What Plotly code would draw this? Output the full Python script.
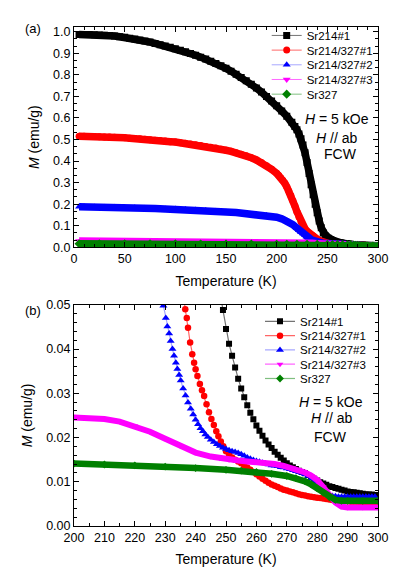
import plotly.graph_objects as go

# ── Data (T in K, M in emu/g) ────────────────────────────────────────────────

T_214 = [5, 10, 15, 20, 25, 30, 35, 40, 45, 50, 55, 60, 65, 70, 75, 80, 85, 90, 95, 100,
         105, 110, 115, 120, 125, 130, 135, 140, 145, 150, 155, 160, 165, 170, 175, 180,
         185, 190, 195, 200, 205, 210, 215, 218, 220, 222, 224, 226, 228, 230, 232, 234,
         236, 238, 240, 242, 244, 246, 248, 249, 250, 251, 252, 253, 254, 255, 256, 257,
         258, 259, 260, 261, 262, 263, 264, 265, 266, 267, 268, 269, 270, 271, 272, 273,
         274, 275, 276, 277, 278, 279, 280, 281, 282, 283, 284, 285, 286, 287, 288, 289,
         290, 291, 292, 293, 294, 295, 296, 297, 298, 299, 300]
M_214 = [0.987, 0.987, 0.987, 0.986, 0.985, 0.984, 0.982, 0.980, 0.977, 0.974, 0.970, 0.966,
         0.962, 0.957, 0.952, 0.946, 0.940, 0.934, 0.928, 0.921, 0.914, 0.907, 0.899, 0.891,
         0.882, 0.873, 0.863, 0.853, 0.842, 0.830, 0.817, 0.803, 0.788, 0.772, 0.756, 0.739,
         0.720, 0.700, 0.679, 0.656, 0.632, 0.608, 0.580, 0.560, 0.545, 0.526, 0.503, 0.474,
         0.438, 0.393, 0.342, 0.290, 0.243, 0.200, 0.160, 0.122, 0.090, 0.066, 0.053,
         0.0488, 0.0445, 0.0412, 0.0385, 0.0358, 0.0333, 0.0311, 0.0291, 0.0273, 0.0256,
         0.0241, 0.0227, 0.0215, 0.0204, 0.0193, 0.0184, 0.0176, 0.0168, 0.0161, 0.0154,
         0.0148, 0.0142, 0.0137, 0.0133, 0.0129, 0.0125, 0.0122, 0.0119, 0.0115, 0.0111,
         0.0107, 0.0103, 0.0099, 0.0096, 0.0093, 0.0090, 0.0088, 0.0086, 0.0084, 0.0082,
         0.0080, 0.0078, 0.0077, 0.0076, 0.0075, 0.0074, 0.0073, 0.0072, 0.0071, 0.0071,
         0.0070, 0.0070]

T_MIX1 = [5, 10, 15, 20, 25, 30, 35, 40, 45, 50, 55, 60, 65, 70, 75, 80, 85, 90, 95, 100,
          105, 110, 115, 120, 125, 130, 135, 140, 145, 150, 155, 160, 165, 170, 175, 180,
          185, 190, 195, 200, 202, 204, 206, 208, 210, 212, 214, 216, 218, 220, 222, 224,
          226, 228, 230, 232, 234, 235, 236, 236.6, 237.1, 237.5, 238.2, 238.9, 239.5,
          240.0, 240.6, 241.4, 242.1, 242.8, 243.6, 244.4, 245.2, 246.0, 246.8, 247.5,
          248.3, 249.1, 250, 251, 252, 253, 254, 255, 256, 257, 258, 259, 260, 261, 262,
          263, 264, 265, 266, 267, 268, 269, 270, 271, 272, 273, 274, 275, 276, 277, 278,
          279, 280, 281, 282, 283, 284, 285, 286, 287, 288, 289, 290, 291, 292, 293, 294,
          295, 296, 297, 298, 299, 300]
M_MIX1 = [0.515, 0.515, 0.514, 0.514, 0.513, 0.512, 0.511, 0.510, 0.509, 0.508, 0.506,
          0.505, 0.503, 0.501, 0.499, 0.497, 0.495, 0.493, 0.490, 0.488, 0.485, 0.482,
          0.479, 0.476, 0.472, 0.468, 0.464, 0.460, 0.455, 0.450, 0.445, 0.439, 0.432,
          0.424, 0.415, 0.405, 0.393, 0.378, 0.362, 0.343, 0.334, 0.323, 0.311, 0.297,
          0.280, 0.261, 0.240, 0.216, 0.191, 0.165, 0.140, 0.118, 0.099, 0.085, 0.074,
          0.065, 0.058, 0.055, 0.052, 0.0490, 0.0470, 0.0448, 0.0415, 0.0388, 0.0369,
          0.0354, 0.0339, 0.0321, 0.0307, 0.0294, 0.0275, 0.0257, 0.0242, 0.0228, 0.0214,
          0.0203, 0.0191, 0.0180, 0.0169, 0.0161, 0.0155, 0.0150, 0.0146, 0.0142, 0.0137,
          0.0132, 0.0127, 0.0122, 0.0117, 0.0112, 0.0107, 0.0102, 0.0098, 0.0094, 0.0091,
          0.0088, 0.0085, 0.0082, 0.0080, 0.0078, 0.0076, 0.0074, 0.0072, 0.0070, 0.0069,
          0.0067, 0.0066, 0.0065, 0.0064, 0.0063, 0.0062, 0.0061, 0.0060, 0.0059, 0.0058,
          0.0057, 0.0057, 0.0056, 0.0056, 0.0055, 0.0055, 0.0055, 0.0054, 0.0054, 0.0054,
          0.0054, 0.0053, 0.0053, 0.0053]

T_MIX2 = [5, 10, 20, 30, 40, 50, 60, 70, 80, 90, 100, 110, 120, 130, 140, 150, 160, 170,
          180, 190, 195, 200, 205, 208, 210, 212, 214, 216, 218, 220, 222, 224, 226, 228,
          229.4, 230.2, 230.7, 231.3, 231.8, 232.4, 232.9, 233.5, 234.0, 234.6, 235.1,
          235.9, 236.7, 237.5, 238.4, 239.2, 240.0, 240.8, 241.6, 242.4, 243.2, 244.0,
          245, 246, 247, 248, 249, 250, 251, 252, 253, 254, 255, 256, 257, 258, 259, 260,
          261, 262, 263, 264, 265, 266, 267, 268, 269, 270, 271, 272, 273, 274, 275, 276,
          277, 278, 279, 280, 281, 282, 283, 284, 285, 286, 287, 288, 289, 290, 291, 292,
          293, 294, 295, 296, 297, 298, 299, 300]
M_MIX2 = [0.188, 0.188, 0.187, 0.186, 0.185, 0.184, 0.183, 0.181, 0.180, 0.178, 0.177,
          0.175, 0.173, 0.170, 0.167, 0.164, 0.161, 0.157, 0.152, 0.147, 0.143, 0.139,
          0.132, 0.127, 0.123, 0.118, 0.112, 0.105, 0.097, 0.088, 0.079, 0.071, 0.064,
          0.057, 0.0498, 0.0470, 0.0451, 0.0435, 0.0418, 0.0400, 0.0385, 0.0369, 0.0355,
          0.0341, 0.0329, 0.0311, 0.0295, 0.0279, 0.0265, 0.0252, 0.0240, 0.0230, 0.0221,
          0.0214, 0.0207, 0.0201, 0.0195, 0.0190, 0.0185, 0.0181, 0.0177, 0.0174, 0.0171,
          0.0169, 0.0167, 0.0165, 0.0162, 0.0159, 0.0155, 0.0152, 0.0149, 0.0147, 0.0145,
          0.0143, 0.0141, 0.0139, 0.0137, 0.0136, 0.0135, 0.0133, 0.0132, 0.0130, 0.0128,
          0.0126, 0.0124, 0.0122, 0.0120, 0.0117, 0.0113, 0.0107, 0.0100, 0.0093, 0.0087,
          0.0081, 0.0075, 0.0071, 0.0068, 0.0067, 0.0066, 0.0066, 0.0066, 0.0066, 0.0066,
          0.0066, 0.0066, 0.0066, 0.0066, 0.0066, 0.0066, 0.0066, 0.0066]

T_MIX3 = [5, 20, 40, 60, 80, 100, 120, 140, 160, 180, 200, 205, 210, 215, 220, 225, 230,
          235, 240, 245, 248, 251, 254, 257, 260, 263, 266, 269, 272, 274, 276, 278, 280,
          282, 284, 286, 288, 290, 295, 300]
M_MIX3 = [0.0290, 0.0288, 0.0284, 0.0280, 0.0276, 0.0272, 0.0267, 0.0262, 0.0257, 0.0252,
          0.0247, 0.0245, 0.0242, 0.0236, 0.0226, 0.0213, 0.0197, 0.0180, 0.0166, 0.0157,
          0.0153, 0.0150, 0.0148, 0.0146, 0.0145, 0.0143, 0.0140, 0.0136, 0.0131, 0.0127,
          0.0121, 0.0114, 0.0104, 0.0088, 0.0070, 0.0053, 0.0044, 0.0042, 0.0042, 0.0042]

T_327 = [5, 25, 50, 75, 100, 125, 150, 175, 200, 210, 220, 230, 240, 250, 255, 260, 265,
         270, 273, 276, 278, 280, 282, 284, 286, 288, 290, 295, 300]
M_327 = [0.0165, 0.0163, 0.0161, 0.0158, 0.0155, 0.0152, 0.0149, 0.0145, 0.0141, 0.0139,
         0.0137, 0.0134, 0.0131, 0.0127, 0.0125, 0.0122, 0.0118, 0.0113, 0.0108, 0.0101,
         0.0094, 0.0085, 0.0075, 0.0065, 0.0059, 0.0057, 0.0057, 0.0057, 0.0057]

NAMES = ["Sr214#1", "Sr214/327#1", "Sr214/327#2", "Sr214/327#3", "Sr327"]

# ── Styling ───────────────────────────────────────────────────────────────────

# the page body adds an 8 px margin, so the figure is a bit smaller than the window
W, H = 399, 569
ML, MR, MT, MB = 66, 29, 17, 49
FONT = "Arial, 'Liberation Sans', Helvetica, sans-serif"

COLORS = ["#000000", "#ff0000", "#0000ff", "#ff00ff", "#008000"]
SYMBOLS = ["square", "circle", "triangle-up", "triangle-down", "diamond"]
THIN = ["rgba(0,0,0,0.55)", "rgba(255,0,0,0.6)", "rgba(0,0,255,0.35)",
        "rgba(255,0,255,0.6)", "rgba(0,128,0,0.5)"]
SIZE_B = [6, 6.5, 7, 6, 6]
BAND_B = [0, 0, 0, 6, 6.5]          # continuous band under very dense markers


# positions below are given in window pixels: plot area spans x 74-378, y 25-528
def px_x(x):
    return (x - 74) / 304


def px_y(y):
    return (528 - y) / 503


SERIES = [(T_214, M_214), (T_MIX1, M_MIX1), (T_MIX2, M_MIX2), (T_MIX3, M_MIX3), (T_327, M_327)]

fig = go.Figure()

# panel (a): dense markers drawn as a band + marker trace for the legend
for i, (t, m) in enumerate(SERIES):
    fig.add_trace(go.Scatter(
        x=t, y=m, mode="lines", line=dict(color=COLORS[i], width=7.5),
        showlegend=False, hoverinfo="skip", xaxis="x", yaxis="y"))
    fig.add_trace(go.Scatter(
        x=t, y=m, mode="lines+markers", name=NAMES[i],
        line=dict(color=THIN[i], width=1),
        marker=dict(symbol=SYMBOLS[i], size=7, color=COLORS[i], line=dict(width=0)),
        legend="legend" if i == 0 else f"legend{i + 1}",
        xaxis="x", yaxis="y"))

# panel (b): zoom on 200-300 K
for i, (t, m) in enumerate(SERIES):
    if BAND_B[i]:
        fig.add_trace(go.Scatter(
            x=t, y=m, mode="lines", line=dict(color=COLORS[i], width=BAND_B[i]),
            showlegend=False, hoverinfo="skip", xaxis="x2", yaxis="y2"))
    fig.add_trace(go.Scatter(
        x=t, y=m, mode="lines+markers", name=NAMES[i],
        line=dict(color=THIN[i], width=1.2),
        marker=dict(symbol=SYMBOLS[i], size=SIZE_B[i], color=COLORS[i], line=dict(width=0)),
        legend=f"legend{i + 6}", xaxis="x2", yaxis="y2"))

# one single-item legend per entry so the row spacing can follow the reference
LEG_A_Y = [33.5, 48.3, 63.1, 77.9, 92.7]
LEG_B_Y = [321.7, 336.1, 350.5, 364.9, 379.3]
legends = {}
for i in range(5):
    key = "legend" if i == 0 else f"legend{i + 1}"
    legends[key] = dict(x=px_x(266.7), y=px_y(LEG_A_Y[i]), xanchor="left", yanchor="middle",
                        bgcolor="rgba(0,0,0,0)", font=dict(size=11.5, color="black"))
    legends[f"legend{i + 6}"] = dict(x=px_x(260), y=px_y(LEG_B_Y[i]), xanchor="left",
                                     yanchor="middle", bgcolor="rgba(0,0,0,0)",
                                     font=dict(size=11.5, color="black"))

AXIS = dict(showline=True, linecolor="black", linewidth=1, mirror="allticks",
            ticks="inside", ticklen=5, tickwidth=1, tickcolor="black",
            showgrid=False, zeroline=False,
            tickfont=dict(size=12.5, color="black"))

top_dom = [px_y(247), 1]
bot_dom = [0, px_y(305)]

fig.update_layout(
    width=W, height=H,
    margin=dict(l=ML, r=MR, t=MT, b=MB),
    paper_bgcolor="white", plot_bgcolor="white",
    font=dict(family=FONT, color="black"),
    xaxis=dict(AXIS, domain=[0, 1], anchor="y", range=[0, 300], dtick=50, tick0=0,
               minor=dict(dtick=10, ticklen=3, ticks="inside", tickcolor="black"),
               title=dict(text="Temperature (K)", font=dict(size=14), standoff=10)),
    yaxis=dict(AXIS, domain=top_dom, anchor="x", range=[0, 1.022], dtick=0.1, tick0=0,
               tickformat=".1f",
               minor=dict(dtick=0.1 / 3, ticklen=3, ticks="inside", tickcolor="black"),
               title=dict(text="<i>M</i> (emu/g)", font=dict(size=14), standoff=10)),
    xaxis2=dict(AXIS, domain=[0, 1], anchor="y2", range=[200, 300], dtick=10, tick0=200,
                minor=dict(dtick=5, ticklen=3, ticks="inside", tickcolor="black"),
                title=dict(text="Temperature (K)", font=dict(size=14), standoff=10)),
    yaxis2=dict(AXIS, domain=bot_dom, anchor="x2", range=[0, 0.05], dtick=0.01, tick0=0,
                tickformat=".2f",
                minor=dict(dtick=0.002, ticklen=3, ticks="inside", tickcolor="black"),
                title=dict(text="<i>M</i> (emu/g)", font=dict(size=14), standoff=10)),
    **legends,
)

NOTES = [
    ("(a)", 32.5, 26.7, 13), ("(b)", 33, 310.5, 13),
    ("<i>H</i> = 5 kOe", 336.5, 118, 14), ("<i>H</i> // ab", 336, 136.5, 14),
    ("FCW", 340, 153.3, 14),
    ("<i>H</i> = 5 kOe", 331, 403.3, 14), ("<i>H</i> // ab", 331, 419.5, 14),
    ("FCW", 330, 438, 14),
]
for text, x, y, size in NOTES:
    fig.add_annotation(text=text, xref="paper", yref="paper", x=px_x(x), y=px_y(y),
                       xanchor="center", yanchor="middle", showarrow=False,
                       font=dict(size=size, color="black"))

fig.write_html("out.html")
